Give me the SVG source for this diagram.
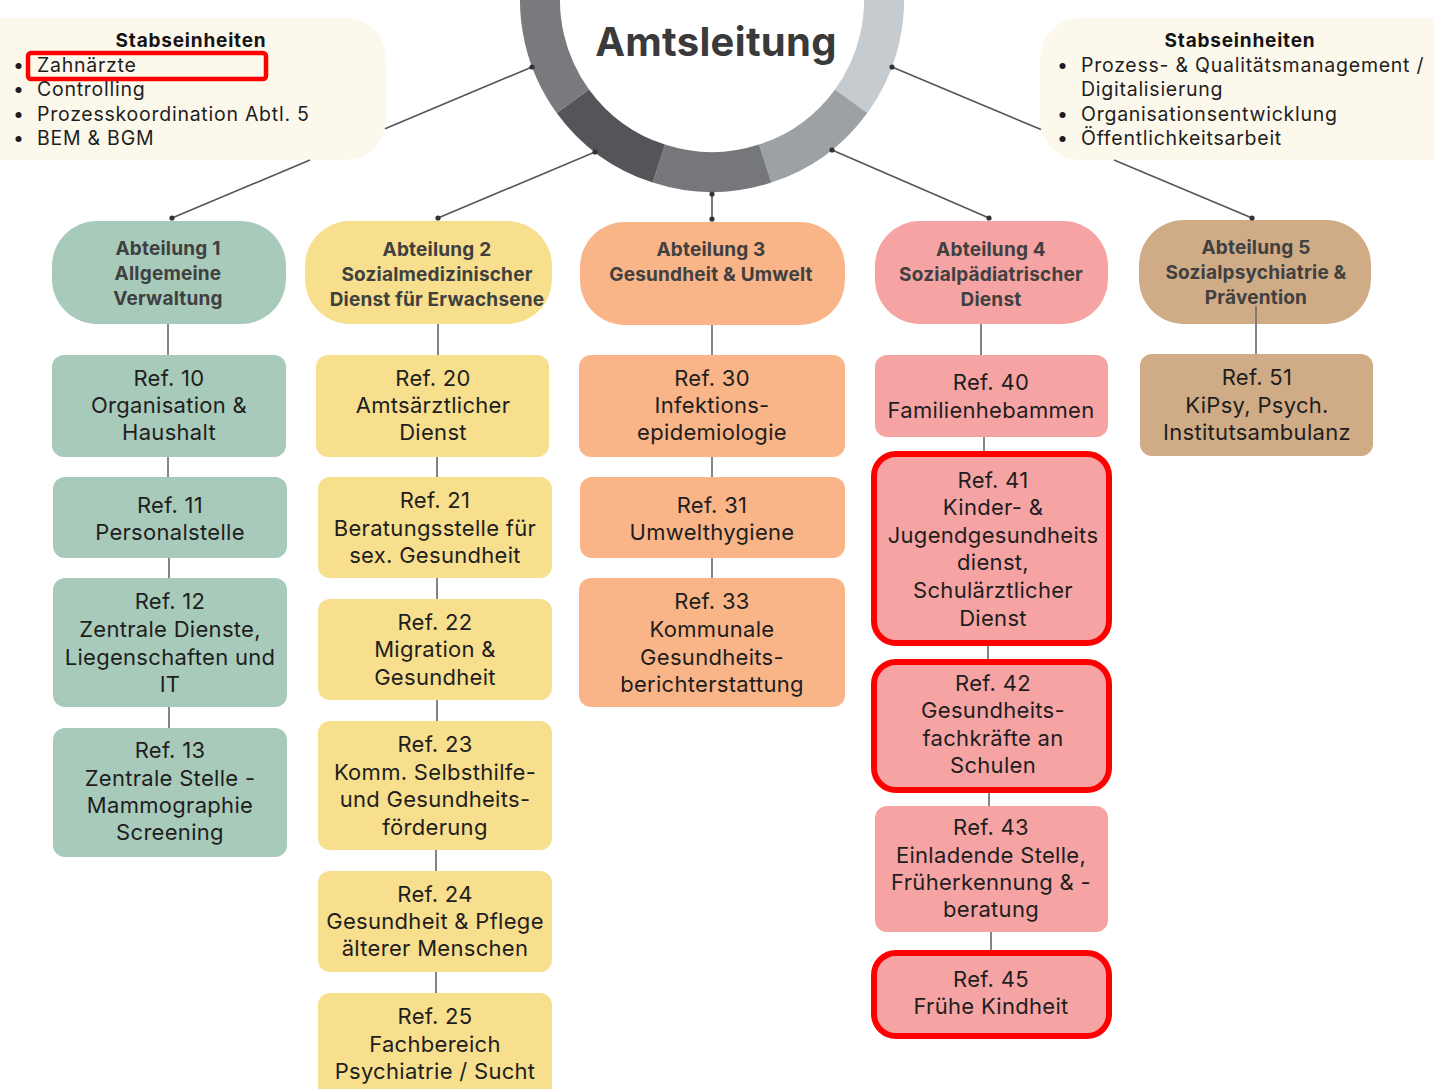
<svg xmlns="http://www.w3.org/2000/svg" width="1434" height="1089" viewBox="0 0 1434 1089">
<style>
  text { font-family: Inter, "Noto Sans", "Liberation Sans", sans-serif; }
  .hd { font-weight: bold; font-size: 19px; fill: #404040; text-anchor: middle; letter-spacing: 0.2px; }
  .rf { font-size: 22px; fill: #1e1e1e; text-anchor: middle; letter-spacing: 0.3px; }
  .st { font-size: 19.5px; fill: #1e1e1e; letter-spacing: 0.75px; }
  .stt { font-weight: bold; font-size: 19px; fill: #141414; text-anchor: middle; letter-spacing: 0.8px; }
  .con { stroke: #555; stroke-width: 1.6; fill: none; }
  .dot { fill: #333; }
  .g { fill: #a8cabb; }
  .y { fill: #f7df8d; }
  .o { fill: #f9b488; }
  .p { fill: #f6a3a4; }
  .t { fill: #cfab86; }
  .hl { stroke: #ff0000; stroke-width: 6; }
</style>
<rect width="1434" height="1089" fill="#ffffff"/>

<g id="amtsleitung">
  <path d="M901.1,-33.4 A192,192 0 0 1 867.3,112.9 L835,89.4 A152,152 0 0 0 861.7,-26.4 Z" fill="#c5cbce"/>
  <path d="M867.3,112.9 A192,192 0 0 1 771.3,182.6 L759,144.6 A152,152 0 0 0 835,89.4 Z" fill="#9ca1a4"/>
  <path d="M771.3,182.6 A192,192 0 0 1 652.7,182.6 L665,144.6 A152,152 0 0 0 759,144.6 Z" fill="#76777b"/>
  <path d="M652.7,182.6 A192,192 0 0 1 556.7,112.9 L589,89.4 A152,152 0 0 0 665,144.6 Z" fill="#555458"/>
  <path d="M556.7,112.9 A192,192 0 0 1 522.9,-33.4 L562.3,-26.4 A152,152 0 0 0 589,89.4 Z" fill="#7a797d"/>
  <text x="716" y="56" font-size="40" font-weight="bold" fill="#3a3a3a" text-anchor="middle" letter-spacing="0.3">Amtsleitung</text>
</g>

<g id="stab-left">
  <rect x="-40" y="18" width="426" height="142" rx="40" fill="#fdf8ec"/>
  <text class="st"><tspan class="stt" x="191" y="47">Stabseinheiten</tspan><tspan x="13" y="72">•</tspan><tspan x="37">Zahnärzte</tspan><tspan x="13" y="96">•</tspan><tspan x="37">Controlling</tspan><tspan x="13" y="121">•</tspan><tspan x="37">Prozesskoordination Abtl. 5</tspan><tspan x="13" y="145">•</tspan><tspan x="37">BEM &amp; BGM</tspan></text>
  <rect x="28" y="53" width="238" height="26" rx="3" fill="none" stroke="#ff0000" stroke-width="4.5"/>
</g>

<g id="stab-right">
  <rect x="1040" y="18" width="440" height="142" rx="40" fill="#fdf8ec"/>
  <text class="st"><tspan class="stt" x="1240" y="47">Stabseinheiten</tspan><tspan x="1057" y="72">•</tspan><tspan x="1081">Prozess- &amp; Qualitätsmanagement /</tspan><tspan x="1081" y="96">Digitalisierung</tspan><tspan x="1057" y="121">•</tspan><tspan x="1081">Organisationsentwicklung</tspan><tspan x="1057" y="145">•</tspan><tspan x="1081">Öffentlichkeitsarbeit</tspan></text>
</g>

<!-- Abteilung 1 -->
<g id="abt1">
  <rect class="g" x="52" y="221" width="234" height="103" rx="45"/>
  <text class="hd"><tspan x="168" y="255">Abteilung 1</tspan><tspan x="168" y="280">Allgemeine</tspan><tspan x="168" y="305">Verwaltung</tspan></text>
</g>
<g id="ref10">
  <rect class="g" x="52" y="355" width="234" height="102" rx="12"/>
  <text class="rf"><tspan x="169" y="386">Ref. 10</tspan><tspan x="169" y="413">Organisation &amp;</tspan><tspan x="169" y="440">Haushalt</tspan></text>
</g>
<g id="ref11">
  <rect class="g" x="53" y="477" width="234" height="81" rx="12"/>
  <text class="rf"><tspan x="170" y="513">Ref. 11</tspan><tspan x="170" y="540">Personalstelle</tspan></text>
</g>
<g id="ref12">
  <rect class="g" x="53" y="578" width="234" height="129" rx="12"/>
  <text class="rf"><tspan x="170" y="609">Ref. 12</tspan><tspan x="170" y="637">Zentrale Dienste,</tspan><tspan x="170" y="665">Liegenschaften und</tspan><tspan x="170" y="692">IT</tspan></text>
</g>
<g id="ref13">
  <rect class="g" x="53" y="728" width="234" height="129" rx="12"/>
  <text class="rf"><tspan x="170" y="758">Ref. 13</tspan><tspan x="170" y="786">Zentrale Stelle -</tspan><tspan x="170" y="813">Mammographie</tspan><tspan x="170" y="840">Screening</tspan></text>
</g>

<!-- Abteilung 2 -->
<g id="abt2">
  <rect class="y" x="305" y="221" width="247" height="103" rx="45"/>
  <text class="hd"><tspan x="437" y="256">Abteilung 2</tspan><tspan x="437" y="281">Sozialmedizinischer</tspan><tspan x="437" y="306">Dienst für Erwachsene</tspan></text>
</g>
<g id="ref20">
  <rect class="y" x="316" y="355" width="233" height="102" rx="12"/>
  <text class="rf"><tspan x="433" y="386">Ref. 20</tspan><tspan x="433" y="413">Amtsärztlicher</tspan><tspan x="433" y="440">Dienst</tspan></text>
</g>
<g id="ref21">
  <rect class="y" x="318" y="477" width="234" height="101" rx="12"/>
  <text class="rf"><tspan x="435" y="508">Ref. 21</tspan><tspan x="435" y="536">Beratungsstelle für</tspan><tspan x="435" y="563">sex. Gesundheit</tspan></text>
</g>
<g id="ref22">
  <rect class="y" x="318" y="599" width="234" height="101" rx="12"/>
  <text class="rf"><tspan x="435" y="630">Ref. 22</tspan><tspan x="435" y="657">Migration &amp;</tspan><tspan x="435" y="685">Gesundheit</tspan></text>
</g>
<g id="ref23">
  <rect class="y" x="318" y="721" width="234" height="129" rx="12"/>
  <text class="rf"><tspan x="435" y="752">Ref. 23</tspan><tspan x="435" y="780">Komm. Selbsthilfe-</tspan><tspan x="435" y="807">und Gesundheits-</tspan><tspan x="435" y="835">förderung</tspan></text>
</g>
<g id="ref24">
  <rect class="y" x="318" y="871" width="234" height="101" rx="12"/>
  <text class="rf"><tspan x="435" y="902">Ref. 24</tspan><tspan x="435" y="929">Gesundheit &amp; Pflege</tspan><tspan x="435" y="956">älterer Menschen</tspan></text>
</g>
<g id="ref25">
  <rect class="y" x="318" y="993" width="234" height="110" rx="12"/>
  <text class="rf"><tspan x="435" y="1024">Ref. 25</tspan><tspan x="435" y="1052">Fachbereich</tspan><tspan x="435" y="1079">Psychiatrie / Sucht</tspan></text>
</g>

<!-- Abteilung 3 -->
<g id="abt3">
  <rect class="o" x="580" y="222" width="265" height="103" rx="45"/>
  <text class="hd"><tspan x="711" y="256">Abteilung 3</tspan><tspan x="711" y="281">Gesundheit &amp; Umwelt</tspan></text>
</g>
<g id="ref30">
  <rect class="o" x="579" y="355" width="266" height="102" rx="12"/>
  <text class="rf"><tspan x="712" y="386">Ref. 30</tspan><tspan x="712" y="413">Infektions-</tspan><tspan x="712" y="440">epidemiologie</tspan></text>
</g>
<g id="ref31">
  <rect class="o" x="580" y="477" width="265" height="81" rx="12"/>
  <text class="rf"><tspan x="712" y="513">Ref. 31</tspan><tspan x="712" y="540">Umwelthygiene</tspan></text>
</g>
<g id="ref33">
  <rect class="o" x="579" y="578" width="266" height="129" rx="12"/>
  <text class="rf"><tspan x="712" y="609">Ref. 33</tspan><tspan x="712" y="637">Kommunale</tspan><tspan x="712" y="665">Gesundheits-</tspan><tspan x="712" y="692">berichterstattung</tspan></text>
</g>

<!-- Abteilung 4 -->
<g id="abt4">
  <rect class="p" x="875" y="221" width="233" height="103" rx="45"/>
  <text class="hd"><tspan x="991" y="256">Abteilung 4</tspan><tspan x="991" y="281">Sozialpädiatrischer</tspan><tspan x="991" y="306">Dienst</tspan></text>
</g>
<g id="ref40">
  <rect class="p" x="875" y="355" width="233" height="82" rx="12"/>
  <text class="rf"><tspan x="991" y="390">Ref. 40</tspan><tspan x="991" y="418">Familienhebammen</tspan></text>
</g>
<g id="ref41">
  <rect class="p hl" x="874" y="454" width="235" height="189" rx="22"/>
  <text class="rf"><tspan x="993" y="488">Ref. 41</tspan><tspan x="993" y="515">Kinder- &amp;</tspan><tspan x="993" y="543">Jugendgesundheits</tspan><tspan x="993" y="570">dienst,</tspan><tspan x="993" y="598">Schulärztlicher</tspan><tspan x="993" y="626">Dienst</tspan></text>
</g>
<g id="ref42">
  <rect class="p hl" x="874" y="662" width="235" height="128" rx="22"/>
  <text class="rf"><tspan x="993" y="691">Ref. 42</tspan><tspan x="993" y="718">Gesundheits-</tspan><tspan x="993" y="746">fachkräfte an</tspan><tspan x="993" y="773">Schulen</tspan></text>
</g>
<g id="ref43">
  <rect class="p" x="875" y="806" width="233" height="126" rx="12"/>
  <text class="rf"><tspan x="991" y="835">Ref. 43</tspan><tspan x="991" y="863">Einladende Stelle,</tspan><tspan x="991" y="890">Früherkennung &amp;  -</tspan><tspan x="991" y="917">beratung</tspan></text>
</g>
<g id="ref45">
  <rect class="p hl" x="874" y="953" width="235" height="83" rx="22"/>
  <text class="rf"><tspan x="991" y="987">Ref. 45</tspan><tspan x="991" y="1014">Frühe Kindheit</tspan></text>
</g>

<!-- Abteilung 5 -->
<g id="abt5">
  <rect class="t" x="1139" y="220" width="232" height="104" rx="45"/>
  <text class="hd"><tspan x="1256" y="254">Abteilung 5</tspan><tspan x="1256" y="279">Sozialpsychiatrie &amp;</tspan><tspan x="1256" y="304">Prävention</tspan></text>
</g>
<g id="ref51">
  <rect class="t" x="1140" y="354" width="233" height="102" rx="12"/>
  <text class="rf"><tspan x="1257" y="385">Ref. 51</tspan><tspan x="1257" y="413">KiPsy, Psych.</tspan><tspan x="1257" y="440">Institutsambulanz</tspan></text>
</g>

<g id="connectors">
  <line class="con" x1="532" y1="67" x2="385" y2="128.7"/>
  <line class="con" x1="310" y1="160" x2="172" y2="218"/>
  <line class="con" x1="892" y1="67" x2="1041" y2="129.5"/>
  <line class="con" x1="1114" y1="160" x2="1252" y2="218"/>
  <line class="con" x1="595" y1="152" x2="438" y2="218"/>
  <line class="con" x1="832" y1="150" x2="989" y2="218"/>
  <line class="con" x1="712" y1="193" x2="712" y2="219"/>
  <circle class="dot" cx="532" cy="67" r="2.6"/>
  <circle class="dot" cx="892" cy="67" r="2.6"/>
  <circle class="dot" cx="595" cy="152" r="2.6"/>
  <circle class="dot" cx="832" cy="150" r="2.6"/>
  <circle class="dot" cx="712" cy="194" r="2.6"/>
  <circle class="dot" cx="712" cy="219" r="2.6"/>
  <circle class="dot" cx="172" cy="218" r="2.6"/>
  <circle class="dot" cx="438" cy="218" r="2.6"/>
  <circle class="dot" cx="989" cy="218" r="2.6"/>
  <circle class="dot" cx="1252" cy="218" r="2.6"/>
  <g stroke="#777" stroke-width="1.8">
    <line x1="168" y1="324" x2="168" y2="355"/>
    <line x1="168" y1="457" x2="168" y2="477"/>
    <line x1="169" y1="558" x2="169" y2="578"/>
    <line x1="169" y1="707" x2="169" y2="728"/>
    <line x1="438" y1="324" x2="438" y2="355"/>
    <line x1="437" y1="457" x2="437" y2="477"/>
    <line x1="437" y1="578" x2="437" y2="599"/>
    <line x1="437" y1="700" x2="437" y2="721"/>
    <line x1="436" y1="850" x2="436" y2="871"/>
    <line x1="436" y1="972" x2="436" y2="993"/>
    <line x1="712" y1="325" x2="712" y2="355"/>
    <line x1="712" y1="457" x2="712" y2="477"/>
    <line x1="712" y1="558" x2="712" y2="578"/>
    <line x1="981" y1="324" x2="981" y2="355"/>
    <line x1="984" y1="437" x2="984" y2="451"/>
    <line x1="988" y1="646" x2="988" y2="659"/>
    <line x1="989" y1="793" x2="989" y2="806"/>
    <line x1="991" y1="932" x2="991" y2="950"/>
    <line x1="1256" y1="306" x2="1256" y2="354"/>
  </g>
</g>
</svg>
